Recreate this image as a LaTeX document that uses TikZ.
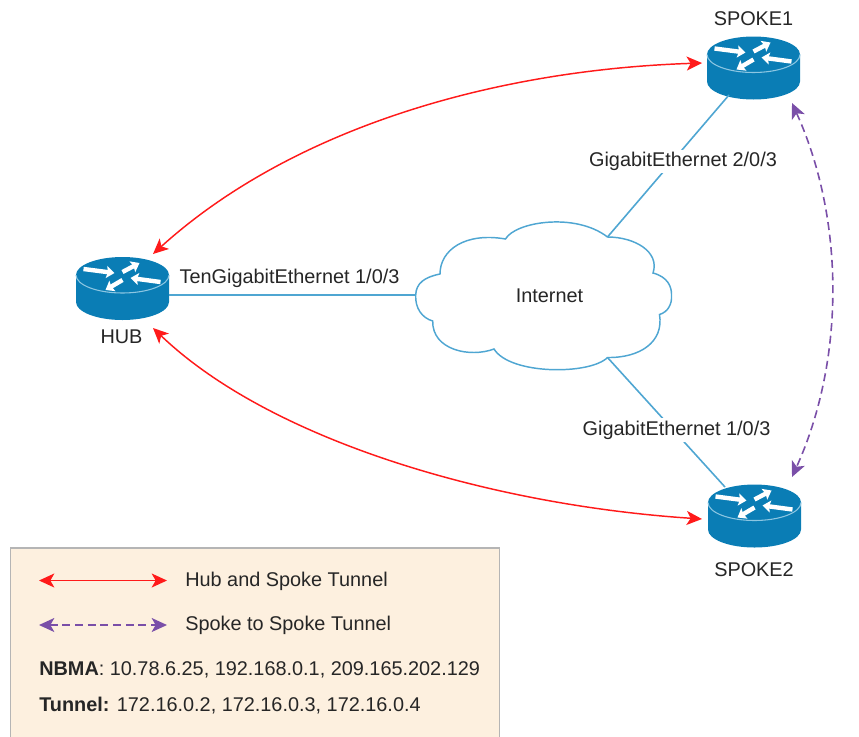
\documentclass[tikz,border=0pt]{standalone}
\usepackage{fontspec}
\setmainfont{Liberation Sans}
\usetikzlibrary{arrows.meta,calc}
\definecolor{rblue}{HTML}{0A7DB5}
\definecolor{rlight}{HTML}{8CC6E2}
\definecolor{cblue}{HTML}{4FA6D2}
\definecolor{legbg}{HTML}{FDF0DF}
\definecolor{legln}{HTML}{B5B5B5}
\definecolor{tred}{HTML}{FF1A1A}
\definecolor{tpur}{HTML}{7A4FA8}
\tikzset{
  lbl/.style={font=\fontsize{14.9}{17}\selectfont,text=black!85,inner sep=0pt},
  linkln/.style={draw=cblue,line width=1.2pt},
  hubtun/.style={draw=tred,line width=1.1pt,{Stealth[length=11.5pt,width=10.5pt,inset=3pt]}-{Stealth[length=11.5pt,width=10.5pt,inset=3pt]}},
  sptun/.style={draw=tpur,line width=1.2pt,dash pattern=on 6pt off 3.5pt,{Stealth[length=11.5pt,width=10.5pt,inset=3pt,color=tpur]}-{Stealth[length=11.5pt,width=10.5pt,inset=3pt,color=tpur]}},
  wht/.style={draw=white,line width=3.3pt,-{Stealth[length=6pt,width=9pt,inset=1pt]}},
  rtbox/.style={minimum width=70pt,minimum height=46pt,inner sep=0pt}
}
\newcommand{\routerat}[3]{%
  \node[rtbox] (#1) at (#2,#3) {};
  \begin{scope}[shift={(#2,#3)}]
    \fill[rblue] (-46.5,-13.5) -- (-46.5,13.5) arc[x radius=46.5,y radius=18,start angle=180,end angle=0] -- (46.5,-13.5) arc[x radius=46.5,y radius=18,start angle=0,end angle=-180] -- cycle;
    \draw[rlight,line width=0.8pt] (-46.5,-13.5) arc[x radius=46.5,y radius=18,start angle=180,end angle=0];
    \draw[wht] (-39,-19.5) -- (-8,-15.5);
    \draw[wht] (0,-16.5) -- (17,-25.5);
    \draw[wht] (38,-6.5) -- (8,-10.5);
    \draw[wht] (0,-8.5) -- (-17,1.5);
  \end{scope}}
\begin{document}
\begin{tikzpicture}[x=0.75pt,y=-0.75pt]
\useasboundingbox (0,0) rectangle (859,736);
% legend
\path[fill=legbg,draw=legln,line width=0.9pt] (10.5,548) -- (499.5,548) -- (499.5,740) -- (10.5,740) -- cycle;
% routers
\routerat{hub}{122.5}{288.5}
\routerat{sa}{753.5}{68}
\routerat{sb}{754.5}{516}
% cloud
\coordinate (cw) at (415.7,295);
\coordinate (cne) at (607.5,237);
\coordinate (cse) at (607.5,357.5);
\node[lbl] (inet) at (549.5,295.5) {Internet};
\path[draw=cblue,line width=1.1pt]
 (cw) .. controls (416,283) and (425,277) .. (440,274)
 .. controls (440,250) and (465,232) .. (505.5,239)
 .. controls (515,222) and (575,212) .. (cne)
 .. controls (635,237) and (660,252) .. (653,273)
 .. controls (668,277) and (672,287) .. (671.5,296)
 .. controls (672,304) and (668,312) .. (659.5,314.5)
 .. controls (664,342) and (640,358) .. (cse)
 .. controls (590,375) and (510,375) .. (494,349)
 .. controls (470,358) and (432,350) .. (432.7,321)
 .. controls (422,318) and (415,308) .. (cw);
% links
\draw[linkln] (hub.east |- cw) -- (cw);
\draw[linkln] (729,95) coordinate (sal) -- (cne);
\draw[linkln] (725,487) coordinate (sbl) -- (cse);
% link labels
\node[lbl] (lh) at (289.5,278.5) {TenGigabitEthernet 1/0/3};
\node[lbl,fill=white,inner ysep=2pt] (ls1) at (683,161.5) {GigabitEthernet 2/0/3};
\node[lbl,fill=white,inner ysep=2pt] (ls2) at (676.5,430) {GigabitEthernet 1/0/3};
% router labels
\node[lbl] (tsa) at (753.5,19) {SPOKE1};
\node[lbl] (thub) at (121.5,337) {HUB};
\node[lbl] (tsb) at (754,570) {SPOKE2};
% tunnels
\coordinate (h1) at (153,254);
\coordinate (s1) at (702,63);
\coordinate (h2) at (153,328);
\coordinate (s2) at (702,519);
\coordinate (p1) at (792,103);
\coordinate (p2) at (792,477);
\draw[hubtun] (h1) .. controls (290,130) and (490,70) .. (s1);
\draw[hubtun] (h2) .. controls (270,440) and (490,505) .. (s2);
\draw[sptun] (p1) .. controls (845,220) and (845,360) .. (p2);
% legend content
\coordinate (la) at (39,580.5);
\coordinate (lb) at (167,580.5);
\coordinate (lc) at (39,625);
\coordinate (ld) at (167,625);
\draw[hubtun] (la) -- (lb);
\draw[sptun] (lc) -- (ld);
\node[lbl,anchor=west] (t1) at (185,581) {Hub and Spoke Tunnel};
\node[lbl,anchor=west] (t2) at (185,625.5) {Spoke to Spoke Tunnel};
\node[lbl,anchor=west] (t3) at (39,670) {\textbf{NBMA}: 10.78.6.25, 192.168.0.1, 209.165.202.129};
\node[lbl,anchor=west] (t4) at (39,705.5) {\textbf{Tunnel:} 172.16.0.2, 172.16.0.3, 172.16.0.4};
\end{tikzpicture}
\end{document}
